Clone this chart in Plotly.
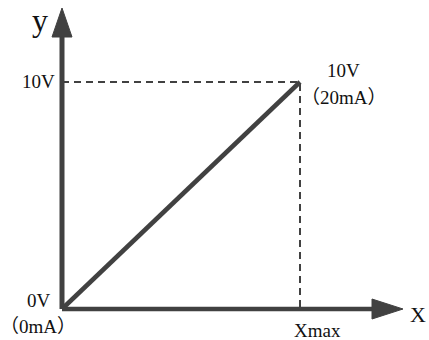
import plotly.graph_objects as go

# data: linear output, 0..Xmax maps to 0V..10V (0mA..20mA)
x_vals = [0, 1]          # 0 -> Xmax
y_vals = [0, 10]         # volts
y_tick_labels = ["0V", "10V"]
ma_labels = ["（0mA）", "（20mA）"]
x_end_label = "Xmax"

W, H = 429, 340
ox, oy = 62, 309         # pixel position of origin
px_x = 238               # pixels per x unit
px_y = 22.7              # pixels per volt

x_range = [-ox / px_x, (W - ox) / px_x]
y_range = [-(H - oy) / px_y, (oy) / px_y]

col = "#414141"
font = "Liberation Serif, 'Noto Sans CJK SC', serif"

def xu(p):  # pixel -> x units
    return (p - ox) / px_x

def yu(p):  # pixel -> y units
    return (oy - p) / px_y

fig = go.Figure()

# dashed guide lines
fig.add_trace(go.Scatter(x=[x_vals[0], x_vals[1], x_vals[1]], y=[y_vals[1], y_vals[1], y_vals[0]],
                         mode="lines", line=dict(color=col, width=2, dash="7px,5px"),
                         hoverinfo="skip"))
# the ramp
fig.add_trace(go.Scatter(x=x_vals, y=y_vals, mode="lines",
                         line=dict(color=col, width=4.5), hoverinfo="skip"))

# axes with triangular arrow heads
x_tip, x_base = xu(403), xu(372)
y_tip, y_base = yu(8), yu(37)
half_w_y = 10 / px_x
half_h_x = 10 / px_y
fig.add_shape(type="line", x0=0, y0=0, x1=0, y1=y_base, line=dict(color=col, width=5))
fig.add_shape(type="line", x0=0, y0=0, x1=x_base, y1=0, line=dict(color=col, width=4.5))
fig.add_shape(type="path",
              path=f"M {-half_w_y} {y_base} L 0 {y_tip} L {half_w_y} {y_base} Z",
              fillcolor=col, line=dict(color=col, width=1))
fig.add_shape(type="path",
              path=f"M {x_base} {-half_h_x} L {x_tip} 0 L {x_base} {half_h_x} Z",
              fillcolor=col, line=dict(color=col, width=1))

def label(text, x, y, size, dx=0, dy=0, xanchor="center"):
    fig.add_annotation(x=x, y=y, text=text, showarrow=False, xanchor=xanchor,
                       yanchor="middle", xshift=dx, yshift=dy,
                       font=dict(family=font, size=size, color="#111111"))

label("y", 0, y_tip, 32, dx=-22, dy=-12)
label("X", x_tip, 0, 22, dx=15, dy=-5)
label(y_tick_labels[1], 0, y_vals[1], 19, dx=-5, dy=1, xanchor="right")
label(y_tick_labels[0], 0, y_vals[0], 19, dx=-9, dy=9, xanchor="right")
label(ma_labels[0], 0, y_vals[0], 19, dx=-24, dy=-17)
label(y_tick_labels[1], x_vals[1], y_vals[1], 19, dx=43, dy=12)
label(ma_labels[1], x_vals[1], y_vals[1], 19, dx=44, dy=-15)
label(x_end_label, x_vals[1], y_vals[0], 19, dx=17, dy=-21)

fig.update_layout(
    width=W, height=H,
    margin=dict(l=0, r=0, t=0, b=0),
    paper_bgcolor="white", plot_bgcolor="white",
    showlegend=False,
    xaxis=dict(range=x_range, visible=False, fixedrange=True),
    yaxis=dict(range=y_range, visible=False, fixedrange=True),
)

fig.write_html("out.html", config={"displayModeBar": False},
               post_script="document.body.style.margin='0';")
